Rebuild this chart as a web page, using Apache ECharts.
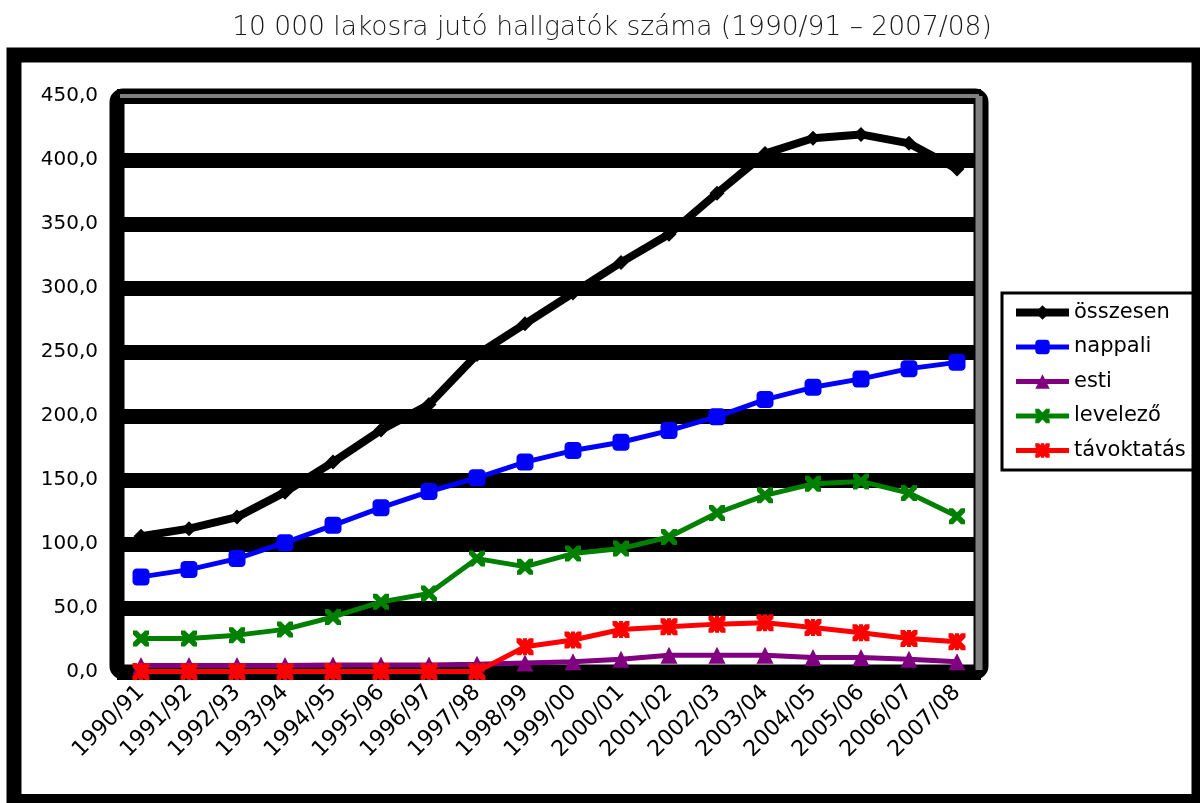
<!DOCTYPE html>
<html>
<head>
<meta charset="utf-8">
<script src="https://cdn.jsdelivr.net/npm/echarts@6/dist/echarts.min.js"></script>
<style>
html,body{margin:0;padding:0;background:#fff;}
#chart{width:1200px;height:803px;}
</style>
</head>
<body>
<div id="chart"></div>
<script>
var titleText = '10 000 lakosra jutó hallgatók száma (1990/91 – 2007/08)';
var categories = ['1990/91','1991/92','1992/93','1993/94','1994/95','1995/96','1996/97','1997/98','1998/99','1999/00','2000/01','2001/02','2002/03','2003/04','2004/05','2005/06','2006/07','2007/08'];
var seriesNames = ['összesen','nappali','esti','levelező','távoktatás'];
var osszesen   = [106, 112, 121, 140.5, 164, 189, 209, 248, 272, 296, 320, 342, 374, 405, 417, 420, 413, 393];
var nappali    = [74.3, 80, 88.6, 101, 114.6, 128.4, 141, 151.7, 164, 173, 179.5, 188.6, 199.5, 212.8, 222.4, 229, 237, 241.9];
var esti       = [5, 5, 5, 5, 5.5, 5.5, 5.5, 6, 7, 8, 10, 13, 13, 13, 11.4, 11.4, 10, 8];
var levelezo   = [26.2, 26.2, 28.8, 33.3, 43, 54.8, 61.3, 88.6, 82.3, 92.5, 96.4, 105.5, 124.2, 138, 147, 148.9, 139.8, 121.6];
var tavoktatas = [0.3, 0.3, 0.3, 0.3, 0.3, 0.3, 0.3, 0.3, 19.7, 25, 33.2, 35.3, 37.4, 38.4, 34.8, 30.7, 26.2, 23.6];
var yTicks = [0, 50, 100, 150, 200, 250, 300, 350, 400, 450];
var yTickLabels = ['0,0','50,0','100,0','150,0','200,0','250,0','300,0','350,0','400,0','450,0'];

var colors = ['#000000', '#0000FF', '#800080', '#008000', '#FF0000'];
var xPath = 'path://M0,0 L2.5,0 L5,2.5 L7.5,0 L10,0 L10,2.5 L7.5,5 L10,7.5 L10,10 L7.5,10 L5,7.5 L2.5,10 L0,10 L0,7.5 L2.5,5 L0,2.5 Z';
var starPath = 'path://M0,0 L2.5,0 L5,2.5 L7.5,0 L10,0 L10,2.5 L7.5,5 L10,7.5 L10,10 L7.5,10 L5,7.5 L2.5,10 L0,10 L0,7.5 L2.5,5 L0,2.5 Z M3.8,0 L6.2,0 L6.2,10 L3.8,10 Z';
var symbols = ['diamond', 'roundRect', 'triangle', xPath, starPath];
var symbolSizes = [15, 17, 17, 16, 17];
var lineWidths = [8, 5, 5, 5, 5];
var dataSets = [osszesen, nappali, esti, levelezo, tavoktatas];

var chart = echarts.init(document.getElementById('chart'), null, {renderer: 'canvas'});
var series = seriesNames.map(function (n, i) {
  return {
    name: n,
    type: 'line',
    data: dataSets[i],
    symbol: symbols[i],
    symbolSize: symbolSizes[i],
    showAllSymbol: true,
    lineStyle: {color: colors[i], width: lineWidths[i]},
    itemStyle: {color: colors[i], borderWidth: 0},
    z: 3 + i,
    animation: false
  };
});

var option = {
  animation: false,
  backgroundColor: '#ffffff',
  title: {
    text: titleText,
    left: 607,
    textAlign: 'center',
    top: 10,
    textStyle: {fontFamily: 'DejaVu Sans', fontWeight: 200, fontSize: 26.5, color: '#1a1a1a'}
  },
  grid: {left: 117, right: 219, top: 96, bottom: 131, containLabel: false},
  legend: {
    orient: 'vertical',
    left: 1002,
    top: 293,
    padding: [9, 8, 9, 10],
    itemGap: 13.5,
    itemWidth: 53,
    itemHeight: 18,
    borderColor: '#000',
    borderWidth: 3,
    backgroundColor: '#fff',
    textStyle: {fontFamily: 'DejaVu Sans', fontSize: 21, color: '#000', padding: [0,0,0,0]},
    data: seriesNames.map(function (n, i) {
      return {name: n, lineStyle: {width: lineWidths[i], color: colors[i]}, itemStyle: {color: colors[i]}};
    })
  },
  xAxis: {
    type: 'category',
    data: categories,
    boundaryGap: true,
    axisLine: {show: false},
    axisTick: {show: false},
    axisLabel: {rotate: 45, margin: 17, fontFamily: 'DejaVu Sans', fontSize: 22, color: '#000', interval: 0}
  },
  yAxis: {
    type: 'value',
    min: yTicks[0],
    max: yTicks[yTicks.length - 1],
    interval: yTicks[1] - yTicks[0],
    axisLine: {show: false},
    axisTick: {show: false},
    axisLabel: {
      margin: 19,
      fontFamily: 'DejaVu Sans',
      fontSize: 20,
      color: '#000',
      formatter: function (v) { var k = yTicks.indexOf(v); return k >= 0 ? yTickLabels[k] : ''; }
    },
    splitLine: {show: true, lineStyle: {color: '#000', width: 15}}
  },
  graphic: [
    {type: 'rect', z: 1, silent: true,
     shape: {x: 117, y: 96, width: 864, height: 576, r: 6},
     style: {fill: null, stroke: '#000', lineWidth: 15}},
    {type: 'line', z: 1, silent: true,
     shape: {x1: 120, y1: 96, x2: 979, y2: 96},
     style: {stroke: '#808080', lineWidth: 4}},
    {type: 'line', z: 1, silent: true,
     shape: {x1: 979, y1: 96, x2: 979, y2: 670},
     style: {stroke: '#808080', lineWidth: 7}},
    {type: 'rect', z: 100, silent: true,
     shape: {x: 14, y: 55, width: 1185, height: 746.5},
     style: {fill: null, stroke: '#000', lineWidth: 15}}
  ],
  series: series
};
chart.setOption(option);
</script>
</body>
</html>
